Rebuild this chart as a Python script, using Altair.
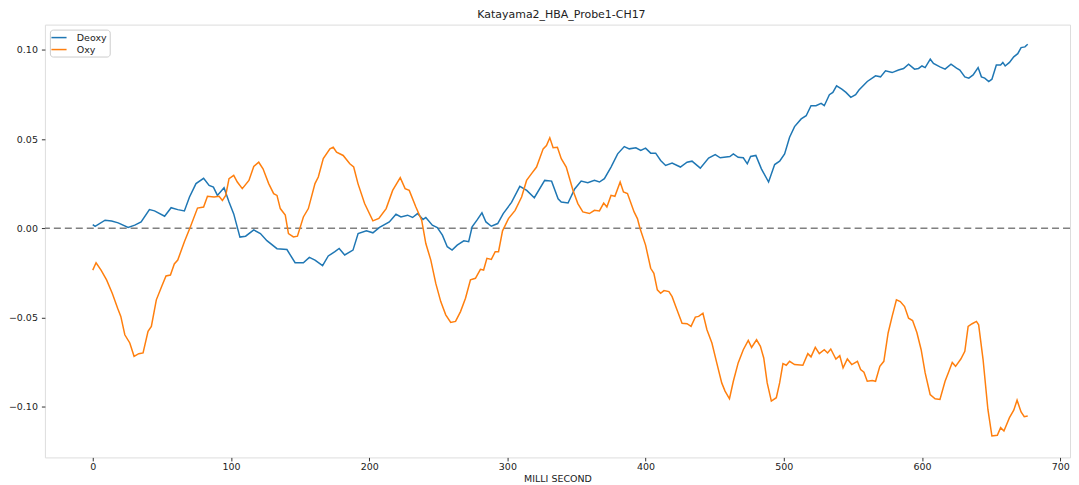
import altair as alt
import pandas as pd

# ---- data ----
deoxy_x = [0, 1.7, 8.9, 13.6, 18.4, 25.6, 30.4, 35, 41, 44.7, 52, 56.7, 61.5, 66.3, 70, 74.7, 80.2, 84.2, 87.3, 90.2,
           95, 98.6, 102, 106.5, 110.6, 116.5, 121.3, 126, 133.3, 140.5, 146.4, 152.4, 156.7, 160.8, 166.3, 170.4,
           175.2, 178.3, 182.3, 188.3, 192, 198, 202.7, 207.5, 214.6, 219.4, 223, 227.8, 231.4, 235, 239, 241, 245.7,
           249.3, 253, 256.5, 260, 263.7, 268.5, 272, 274.5, 278, 281.6, 284.5, 288.4, 293, 297, 303, 309, 314,
           319.5, 327, 332, 336.7, 339, 343.9, 348.7, 353.4, 358.2, 363, 366.6, 370.2, 375, 379.8, 384.6, 388.2,
           393, 396.5, 400, 403.7, 407.3, 410.9, 414.5, 419.2, 425.2, 430, 433.6, 439.6, 445.6, 450.4, 454, 461,
           463.5, 467, 470.7, 473.6, 476, 479.8, 483.8, 489, 493.4, 497, 500.6, 504.2, 507.8, 512.6, 516.2, 519.7,
           523.3, 527, 529.3, 533, 535.5, 538.2, 542, 545, 548.5, 552, 554.4, 560.4, 566.4, 570, 573.6, 578.4, 583,
           586.7, 590.3, 594.6, 597.5, 600, 602.3, 606, 608.3, 613, 616.7, 621, 625, 627.4, 631, 633.9, 637, 640.6,
           643, 645.4, 648.3, 650.6, 653.8, 656.9, 658.5, 660.2, 663.3, 666.4, 669.3, 671.7, 674.5, 676.5]
deoxy_y = [0.002, 0.001, 0.0045, 0.004, 0.003, 0.0004, 0.0017, 0.0035, 0.0104, 0.0097, 0.0067, 0.0115, 0.0104,
           0.0097, 0.0175, 0.025, 0.028, 0.024, 0.023, 0.0184, 0.0227, 0.0147, 0.008, -0.005, -0.0045, -0.001,
           -0.003, -0.007, -0.0115, -0.012, -0.0194, -0.0194, -0.0164, -0.0179, -0.021, -0.0156, -0.0132, -0.0114,
           -0.015, -0.0123, -0.003, -0.0015, -0.0026, 0.0004, 0.0035, 0.0078, 0.0063, 0.0073, 0.006, 0.0082,
           0.0049, 0.006, 0.0017, 0.0004, -0.0039, -0.0104, -0.0123, -0.0095, -0.0071, -0.0076, 0.0007, 0.0045,
           0.0086, 0.0035, 0.0011, 0.0026, 0.0082, 0.0145, 0.0235, 0.0212, 0.0171, 0.0268, 0.0264, 0.0165, 0.0147,
           0.0141, 0.022, 0.0264, 0.0255, 0.0268, 0.0259, 0.0278, 0.0343, 0.0417, 0.0458, 0.0445, 0.0451, 0.0436,
           0.0449, 0.0421, 0.0421, 0.038, 0.0352, 0.0365, 0.0343, 0.037, 0.0376, 0.0337, 0.0393, 0.0413, 0.0395,
           0.0402, 0.0417, 0.0398, 0.0395, 0.0361, 0.0402, 0.0408, 0.0333, 0.0259, 0.0357, 0.0376, 0.0417, 0.051,
           0.057, 0.0613, 0.0631, 0.0687, 0.0687, 0.07, 0.0687, 0.0749, 0.0762, 0.0799, 0.078, 0.0762, 0.0734,
           0.0749, 0.0775, 0.0823, 0.0855, 0.0849, 0.0883, 0.0873, 0.0887, 0.0896, 0.092, 0.0892, 0.0896, 0.091,
           0.0901, 0.0948, 0.0924, 0.0905, 0.0892, 0.092, 0.0898, 0.0887, 0.0849, 0.0842, 0.086, 0.0901, 0.0849,
           0.0842, 0.0823, 0.0836, 0.0915, 0.0916, 0.093, 0.091, 0.093, 0.0961, 0.0979, 0.1013, 0.1017, 0.1032]

oxy_x = [0, 2.4, 6, 10, 14.1, 18, 20.3, 23.2, 26.8, 29.9, 33.3, 36.4, 40, 42.4, 46, 50, 53, 56.2, 59, 61.5, 66.3,
         70.6, 75.8, 80.2, 83, 87.8, 91.4, 93.8, 96.2, 98.6, 102, 104.6, 108.2, 113, 116.5, 120.1, 123.2, 127.3,
         130.9, 133.3, 135.7, 139.3, 141.6, 145.2, 148.1, 152.4, 156, 160.8, 163.2, 166.8, 171.6, 174, 176.4, 181.2,
         186, 188.8, 191.9, 196.7, 202.7, 207, 212.3, 217, 222.5, 226, 229, 233.8, 238, 241, 244.6, 248.2, 251.8,
         255.4, 259, 262.5, 266.1, 269.7, 273.3, 276.9, 280.5, 282.8, 285.2, 288.4, 291.2, 293.6, 296.5, 300.8,
         305.6, 310.3, 313.9, 317.5, 321.1, 325.9, 328.3, 330.7, 333.1, 336.2, 339, 342.6, 347.5, 351, 354.6,
         359.4, 363, 366.6, 369.7, 372, 375, 377.8, 381.6, 384, 386.9, 391.7, 394.1, 396, 400, 403.7, 406, 408.5,
         410.9, 413.3, 416.9, 419.2, 422.3, 426.4, 430, 432.9, 436, 438.4, 441.5, 444.4, 448, 451.5, 455.1, 457.5,
         460.7, 463.5, 467, 470.7, 474.3, 476.7, 480.3, 483.1, 485.5, 488, 491, 494.6, 497, 499.4, 501.8, 504.2,
         507.8, 513.8, 517.4, 519.7, 522.8, 525.7, 529.3, 531.7, 534, 537.7, 540.5, 542.9, 546, 549.2, 553.3,
         555.6, 558, 560.4, 564, 566.4, 569.5, 572.4, 575.5, 578.4, 581.5, 584.3, 587.4, 590.3, 593.2, 596.3,
         599.4, 602.3, 605.9, 609.5, 613, 616.7, 619.5, 621.9, 624.3, 628.1, 631, 633.4, 636.3, 639.4, 641, 644.2,
         647.7, 650.6, 654.5, 656.9, 659.3, 663.3, 666.4, 668.8, 671.7, 674, 676.5]
oxy_y = [-0.0235, -0.0194, -0.0235, -0.029, -0.0365, -0.0449, -0.0495, -0.0598, -0.0644, -0.0719, -0.0704, -0.07,
         -0.0579, -0.0551, -0.0402, -0.0324, -0.0268, -0.0263, -0.0201, -0.0179, -0.0076, 0.0007, 0.0113, 0.0119,
         0.0179, 0.0175, 0.0179, 0.0156, 0.0184, 0.0278, 0.0296, 0.0259, 0.0222, 0.0268, 0.0346, 0.037, 0.0333,
         0.025, 0.0194, 0.0184, 0.011, 0.0073, -0.003, -0.0049, -0.0045, 0.0063, 0.011, 0.025, 0.0287, 0.039,
         0.0445, 0.0454, 0.0426, 0.0408, 0.0361, 0.0343, 0.025, 0.0138, 0.0041, 0.0055, 0.011, 0.0212, 0.0283,
         0.0222, 0.0212, 0.0119, 0.0045, -0.0086, -0.0179, -0.031, -0.0412, -0.0486, -0.0529, -0.0523, -0.0468,
         -0.0393, -0.029, -0.0281, -0.0231, -0.0235, -0.0169, -0.0175, -0.0132, -0.0132, -0.0015, 0.0054, 0.01,
         0.0175, 0.0268, 0.0306, 0.0343, 0.0445, 0.0464, 0.0507, 0.0451, 0.0454, 0.039, 0.0343, 0.0212, 0.0138,
         0.0091, 0.0082, 0.01, 0.0097, 0.0141, 0.0119, 0.0184, 0.0179, 0.0259, 0.0203, 0.0194, 0.0091, 0.0054,
         -0.0002, -0.0095, -0.0225, -0.0253, -0.0346, -0.0365, -0.035, -0.0356, -0.0384, -0.0449, -0.0533,
         -0.0536, -0.0551, -0.0499, -0.0495, -0.0477, -0.057, -0.0644, -0.0756, -0.0868, -0.0914, -0.0957,
         -0.0859, -0.0756, -0.0682, -0.063, -0.0669, -0.0626, -0.0663, -0.0728, -0.0868, -0.097, -0.0951, -0.0868,
         -0.076, -0.0769, -0.0747, -0.0765, -0.0769, -0.0704, -0.0722, -0.0669, -0.0704, -0.0682, -0.07, -0.0678,
         -0.0734, -0.0715, -0.0784, -0.0734, -0.0765, -0.0747, -0.0793, -0.0808, -0.0859, -0.0855, -0.0859,
         -0.0775, -0.0747, -0.0588, -0.0495, -0.0402, -0.0412, -0.044, -0.0505, -0.0518, -0.0585, -0.0682,
         -0.0812, -0.0933, -0.0957, -0.0961, -0.0859, -0.0803, -0.0753, -0.0775, -0.0734, -0.0691, -0.0551,
         -0.0536, -0.0523, -0.0542, -0.0737, -0.1017, -0.1166, -0.1162, -0.1119, -0.1138, -0.1063, -0.1021,
         -0.0965, -0.1031, -0.1058, -0.1054]

series_names = ["Deoxy", "Oxy"]
series_colors = ["#1f77b4", "#ff7f0e"]
x_ticks = [0, 100, 200, 300, 400, 500, 600, 700]
y_ticks = [-0.10, -0.05, 0.0, 0.05, 0.10]

rows = []
for i, (xv, yv) in enumerate(zip(deoxy_x, deoxy_y)):
    rows.append({"t": xv, "v": yv, "series": "Deoxy", "o": i})
for i, (xv, yv) in enumerate(zip(oxy_x, oxy_y)):
    rows.append({"t": xv, "v": yv, "series": "Oxy", "o": i})
df = pd.DataFrame(rows)

FONT = "DejaVu Sans"

xscale = alt.Scale(domain=[-34.63, 707.1], nice=False, zero=False)
yscale = alt.Scale(domain=[-0.1286, 0.1142], nice=False, zero=False)

lines = alt.Chart(df).mark_line(strokeWidth=1.5, clip=True).encode(
    x=alt.X("t:Q", scale=xscale,
            axis=alt.Axis(title="MILLI SECOND", values=x_ticks, format="d", grid=False,
                          tickSize=3.5, tickColor="#333", domain=False, labelFont=FONT,
                          labelFontSize=9.5, labelColor="#222", titleFont=FONT, titleFontSize=9.5,
                          titleFontWeight="normal", titleColor="#222", titlePadding=2, labelPadding=1)),
    y=alt.Y("v:Q", scale=yscale,
            axis=alt.Axis(title=None, values=y_ticks, format=".2f", grid=False, tickSize=3.5,
                          tickColor="#333", domain=False, labelFont=FONT, labelFontSize=9.5,
                          labelColor="#222", labelPadding=4, minExtent=35, maxExtent=35)),
    color=alt.Color("series:N", scale=alt.Scale(domain=series_names, range=series_colors),
                    legend=alt.Legend(title=None, orient="top-left", offset=4.5,
                                      symbolType="M-2.1,0H1.1", symbolSize=90,
                                      symbolStrokeWidth=1.5, symbolOffset=3.5, labelFont=FONT,
                                      labelFontSize=9.5, labelColor="#222", strokeColor="#cccccc",
                                      fillColor="white", padding=2.5, cornerRadius=3, rowPadding=2,
                                      labelOffset=10)),
    order="o:Q",
)

zero = alt.Chart(pd.DataFrame({"z": [0.0]})).mark_rule(
    color="#808080", strokeWidth=1.5, strokeDash=[7, 4]
).encode(y=alt.Y("z:Q", scale=yscale))

chart = alt.layer(zero, lines).properties(
    width=1028, height=434,
    title=alt.TitleParams("Katayama2_HBA_Probe1-CH17", font=FONT, fontSize=11, fontWeight="normal",
                          color="#222", offset=4.5, anchor="middle", dx=4),
    padding={"left": 0, "top": 0, "right": 0, "bottom": 0},
).configure_view(stroke="#333", strokeWidth=1.2).configure(background="white")

chart.save("out.html", embed_options={"renderer": "svg", "actions": False})
